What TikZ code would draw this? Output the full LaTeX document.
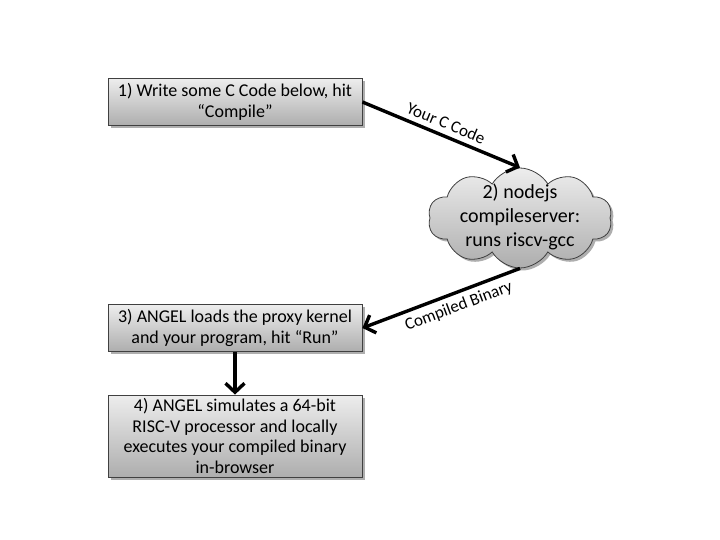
\documentclass[tikz,border=0pt]{standalone}
\usepackage{fontspec}
\setmainfont{Carlito}
\usetikzlibrary{shapes.symbols,shadows,arrows.meta}
\begin{document}
\begin{tikzpicture}[x=1pt,y=1pt,
  stepbox/.style={draw=black!75, line width=0.8pt, top color=black!7, bottom color=black!32,
    minimum width=254pt, inner sep=2pt, align=center, font=\fontsize{18}{20.5}\selectfont,
    drop shadow={shadow xshift=2.5pt, shadow yshift=-2.5pt, opacity=0.45, fill=black!70}},
  cloudnode/.style={cloud, cloud puffs=10, cloud puff arc=120, aspect=1.8, draw=black!75,
    line width=0.8pt, top color=black!7, bottom color=black!32, minimum width=184pt,
    minimum height=100pt, inner sep=0pt, font=\fontsize{20}{24}\selectfont,
    drop shadow={shadow xshift=2.5pt, shadow yshift=-2.5pt, opacity=0.45, fill=black!70}},
  conn/.style={line width=3.4pt, -{Straight Barb[length=9pt,width=19pt,line width=3.4pt]}},
  lbl/.style={font=\fontsize{17}{20}\selectfont, sloped, inner sep=5pt}
]
\useasboundingbox[fill=white] (0,0) rectangle (720,-540);
\node[stepbox, minimum height=47pt] (b1) at (235,-102) {1) Write some C Code below, hit\\``Compile''};
\node[cloudnode] (cl) at (520,-218) {\makebox[0pt]{\smash{\raisebox{-5pt}{\begin{tabular}{@{}c@{}}2) nodejs\\compileserver:\\runs riscv-gcc\end{tabular}}}}};
\node[stepbox, minimum height=47pt] (b3) at (235,-328) {3) ANGEL loads the proxy kernel\\and your program, hit ``Run''};
\node[stepbox, minimum height=82pt] (b4) at (235,-436) {4) ANGEL simulates a 64-bit\\RISC-V processor and locally\\executes your compiled binary\\in-browser};
\draw[conn] (b1.east) -- node[lbl, above, pos=0.5] {Your C Code} (cl.north);
\draw[conn] (cl.south) -- node[lbl, below, pos=0.42] {Compiled Binary} (b3.east);
\draw[conn] (b3.south) -- (b4.north);
\end{tikzpicture}
\end{document}
